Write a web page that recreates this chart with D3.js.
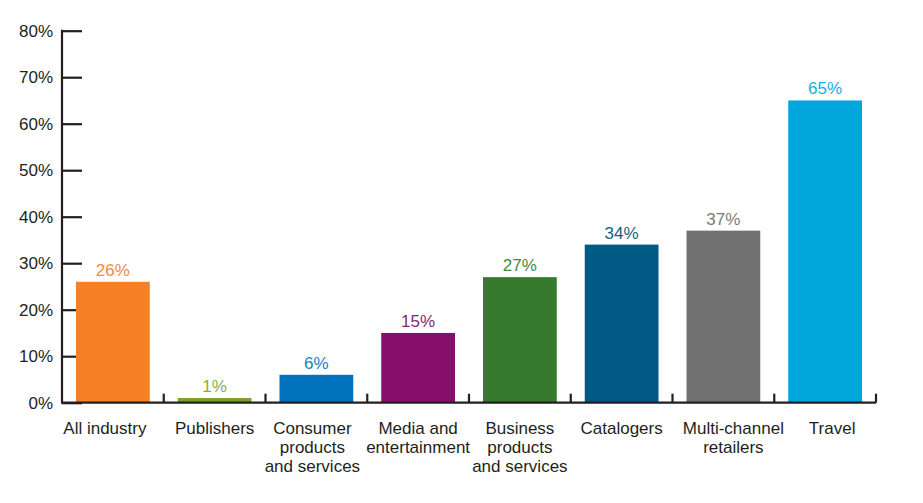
<!DOCTYPE html>
<html>
<head>
<meta charset="utf-8">
<script src="https://cdn.jsdelivr.net/npm/d3@7"></script>
<style>
    body { margin: 0; background: #fff; }
    svg text { font-family: "Liberation Sans", Arial, sans-serif; }
</style>
</head>
<body>
<svg width="923" height="503"></svg>
<script>
var categories = [
    ["All industry"],
    ["Publishers"],
    ["Consumer", "products", "and services"],
    ["Media and", "entertainment"],
    ["Business", "products", "and services"],
    ["Catalogers"],
    ["Multi-channel", "retailers"],
    ["Travel"]
];
var values = [26, 1, 6, 15, 27, 34, 37, 65];
var barColors = ["#f58025", "#7ba02c", "#0073bd", "#850f6b", "#367a2e", "#015a83", "#717171", "#00a6dc"];
var labelColors = ["#f68a3d", "#8cb040", "#1a7fc3", "#8a1f73", "#458a3a", "#135f86", "#7a7a7a", "#1aaee0"];
var yTicks = [0, 10, 20, 30, 40, 50, 60, 70, 80];

var svg = d3.select("svg");
var plotLeft = 62, plotRight = 876, plotTop = 30.7, plotBottom = 402.7;

// small horizontal nudges so category labels sit like in the original
var catNudge = [-8, 0, -4, 0, 0, 0, 10, 7];

var x = d3.scaleBand()
    .domain(d3.range(values.length))
    .range([plotLeft, plotRight])
    .paddingInner(0.275)
    .paddingOuter(0.1375);

var y = d3.scaleLinear().domain([0, 80]).range([plotBottom, plotTop]);

// y axis
var yAxis = svg.append("g").attr("transform", "translate(" + plotLeft + ",0)")
    .call(d3.axisRight(y).tickValues(yTicks).tickSize(20).tickFormat(""));
yAxis.select(".domain").remove();
yAxis.selectAll(".tick line").attr("stroke", "#231f20").attr("stroke-width", 2.2);

svg.append("line")
    .attr("x1", plotLeft).attr("x2", plotLeft)
    .attr("y1", y(80) - 1).attr("y2", plotBottom + 1)
    .attr("stroke", "#231f20").attr("stroke-width", 2.2);

svg.selectAll(".ylab")
    .data(yTicks)
    .enter()
    .append("text")
    .attr("class", "ylab")
    .attr("x", 53)
    .attr("y", function (d) { return y(d) + 6; })
    .attr("text-anchor", "end")
    .attr("font-size", 17)
    .attr("fill", "#231f20")
    .text(function (d) { return d + "%"; });

// bars
svg.selectAll(".bar")
    .data(values)
    .enter()
    .append("rect")
    .attr("class", "bar")
    .attr("x", function (d, i) { return x(i); })
    .attr("width", x.bandwidth())
    .attr("y", function (d) { return y(d); })
    .attr("height", function (d) { return plotBottom - y(d); })
    .attr("fill", function (d, i) { return barColors[i]; });

// value labels
svg.selectAll(".val")
    .data(values)
    .enter()
    .append("text")
    .attr("class", "val")
    .attr("x", function (d, i) { return x(i) + x.bandwidth() / 2; })
    .attr("y", function (d) { return y(d) - 6; })
    .attr("text-anchor", "middle")
    .attr("font-size", 17)
    .attr("fill", function (d, i) { return labelColors[i]; })
    .text(function (d) { return d + "%"; });

// x axis line and category separators
svg.append("line")
    .attr("x1", plotLeft).attr("x2", plotRight)
    .attr("y1", plotBottom).attr("y2", plotBottom)
    .attr("stroke", "#231f20").attr("stroke-width", 2.2);

var step = x.step();
var seps = d3.range(1, values.length + 1);
svg.selectAll(".sep")
    .data(seps)
    .enter()
    .append("line")
    .attr("class", "sep")
    .attr("x1", function (d) { return plotLeft + d * step; })
    .attr("x2", function (d) { return plotLeft + d * step; })
    .attr("y1", plotBottom - 9)
    .attr("y2", plotBottom)
    .attr("stroke", "#231f20").attr("stroke-width", 2.2);

// category labels
var cat = svg.selectAll(".cat")
    .data(categories)
    .enter()
    .append("text")
    .attr("class", "cat")
    .attr("text-anchor", "middle")
    .attr("font-size", 17)
    .attr("fill", "#231f20");

cat.selectAll("tspan")
    .data(function (d, i) { return d.map(function (s) { return { s: s, i: i }; }); })
    .enter()
    .append("tspan")
    .attr("x", function (d) { return x(d.i) + x.bandwidth() / 2 + catNudge[d.i]; })
    .attr("y", function (d, j) { return 434 + j * 19; })
    .text(function (d) { return d.s; });
</script>
</body>
</html>
